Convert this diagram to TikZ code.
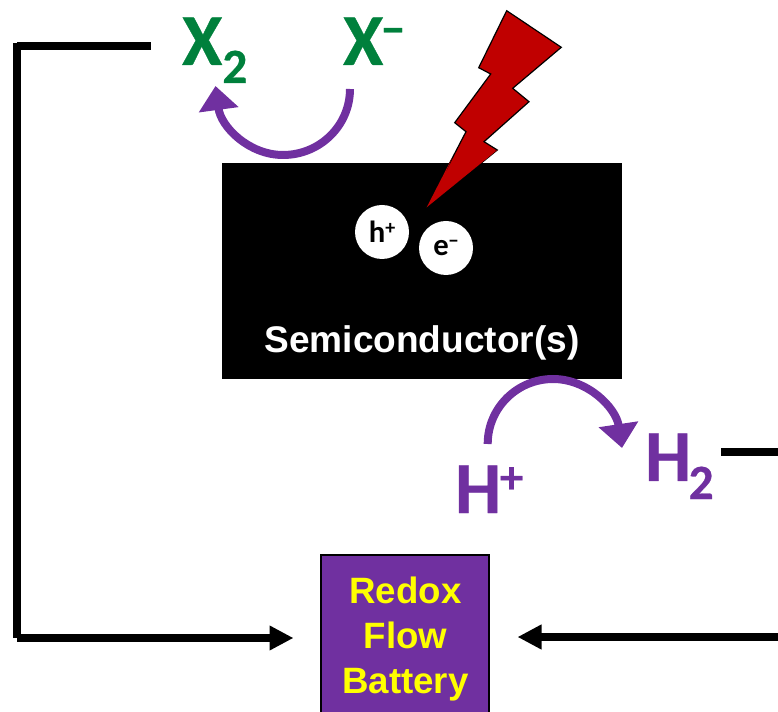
\documentclass[tikz,border=0pt]{standalone}
\usepackage{fontspec}
\setmainfont{Liberation Sans}
\newfontfamily\carl[BoldFeatures={FakeBold=0.5}]{Carlito}
\newfontfamily\carlplain{Carlito}
\usetikzlibrary{arrows.meta}
\definecolor{grn}{HTML}{00803C}
\definecolor{pur}{HTML}{7030A0}
\definecolor{bolt}{HTML}{C00000}
\definecolor{yel}{HTML}{FFFF00}
\newcommand{\bigtxt}[1]{{\fontsize{55}{55}\carl\bfseries #1}}
\newcommand{\lowtwo}{\raisebox{-13.5pt}{\fontsize{37}{37}\carl\bfseries 2}}
\newcommand{\hightxt}[2]{\kern#1\raisebox{15pt}{\fontsize{35}{35}\carl\bfseries #2}}
\tikzset{
  x=0.75pt,y=-0.75pt,
  wire/.style={line width=6pt,black},
  wirearrow/.style={wire,-{Triangle[length=18pt,width=17.5pt]}},
  curved/.style={line width=6pt,pur,-{Triangle[length=18pt,width=29pt]}},
  label/.style={inner sep=0pt,outer sep=0pt,anchor=base west},
  white text/.style={inner sep=0pt,font=\fontsize{27.8}{27.8}\bfseries,text=white},
  carrier/.style={circle,fill=white,draw=none,minimum size=40.5pt,inner sep=0pt,text=black,font=\fontsize{23}{23}\carlplain\bfseries},
  batt/.style={inner sep=0pt,anchor=base,text=yel,font=\fontsize{27.5}{27.5}\bfseries}
}
\begin{document}
\begin{tikzpicture}
\useasboundingbox (0,0) rectangle (778,712);
% semiconductor block
\fill[black] (222,163) rectangle (622,379);
% lightning
\draw[fill=bolt,draw=black,line width=0.9pt,line join=miter]
 (506.7,10.7)--(561.3,47.3)--(512.7,88.3)--(529,101.7)--(484,141.7)--(497.3,150)--(426.7,207.3)--(466,131.7)--(454.7,122.7)--(490.7,74)--(478.7,67.7)--cycle;
\fill[bolt] (446,172)--(497.3,150)--(426.7,207.3)--(452,158)--cycle;
\node[carrier] (hp) at (382,232) {h\raisebox{6.5pt}{\fontsize{15}{15}\selectfont +}};
\node[carrier] (em) at (446,248) {e\raisebox{6.5pt}{\fontsize{15}{15}\selectfont −}};
\node[white text,anchor=base] (semi) at (422,353) {Semiconductor(s)};
% texts
\node[label,text=grn] (xtwo) at (182,65) {\bigtxt{X}\lowtwo};
\node[label,text=grn] (xm) at (343,65) {\bigtxt{X}\hightxt{-1.5pt}{−}};
\node[label,text=pur] (hplus) at (455,513) {\bigtxt{H}\hightxt{-1pt}{+}};
\node[label,text=pur] (htwo) at (645,481) {\bigtxt{H}\kern-2pt\lowtwo};
% battery
\draw[fill=pur,draw=black,line width=1.6pt] (321,555) rectangle (489,730);
\node[batt] (b1) at (405.5,603) {Redox};
\node[batt] (b2) at (405.5,648) {Flow};
\node[batt] (b3) at (405.5,693) {Battery};
\coordinate (battL) at (293.5,638);
\coordinate (battR) at (517.5,637);
% curved arrows
\coordinate (xs) at (350,89);
\coordinate (xb) at (283,155);
\coordinate (xe) at (215.5,86);
\draw[curved] (xs) .. controls (350,125.5) and (320,155) .. (xb) .. controls (249,155) and (221,127) .. (xe);
\coordinate (hs) at (487.7,444);
\coordinate (ht) at (553,379);
\coordinate (he) at (622,448);
\draw[curved] (hs) .. controls (487.7,408) and (517,379) .. (ht) .. controls (588,379) and (616,408) .. (he);
% wires
\coordinate (topend) at (151,46);
\coordinate (topstart) at (17,46);
\coordinate (leftv) at (17,43);
\coordinate (leftb) at (17,638);
\coordinate (rightin) at (778,637);
\coordinate (hline) at (721,452);
\coordinate (hlineend) at (778,452);
\draw[wire] (topstart) -- (topend);
\draw[wire] (leftv) -- (leftb);
\draw[wirearrow] (17,638) -- (battL);
\draw[wirearrow] (rightin) -- (battR);
\draw[wire] (hline) -- (hlineend);
\end{tikzpicture}
\end{document}
